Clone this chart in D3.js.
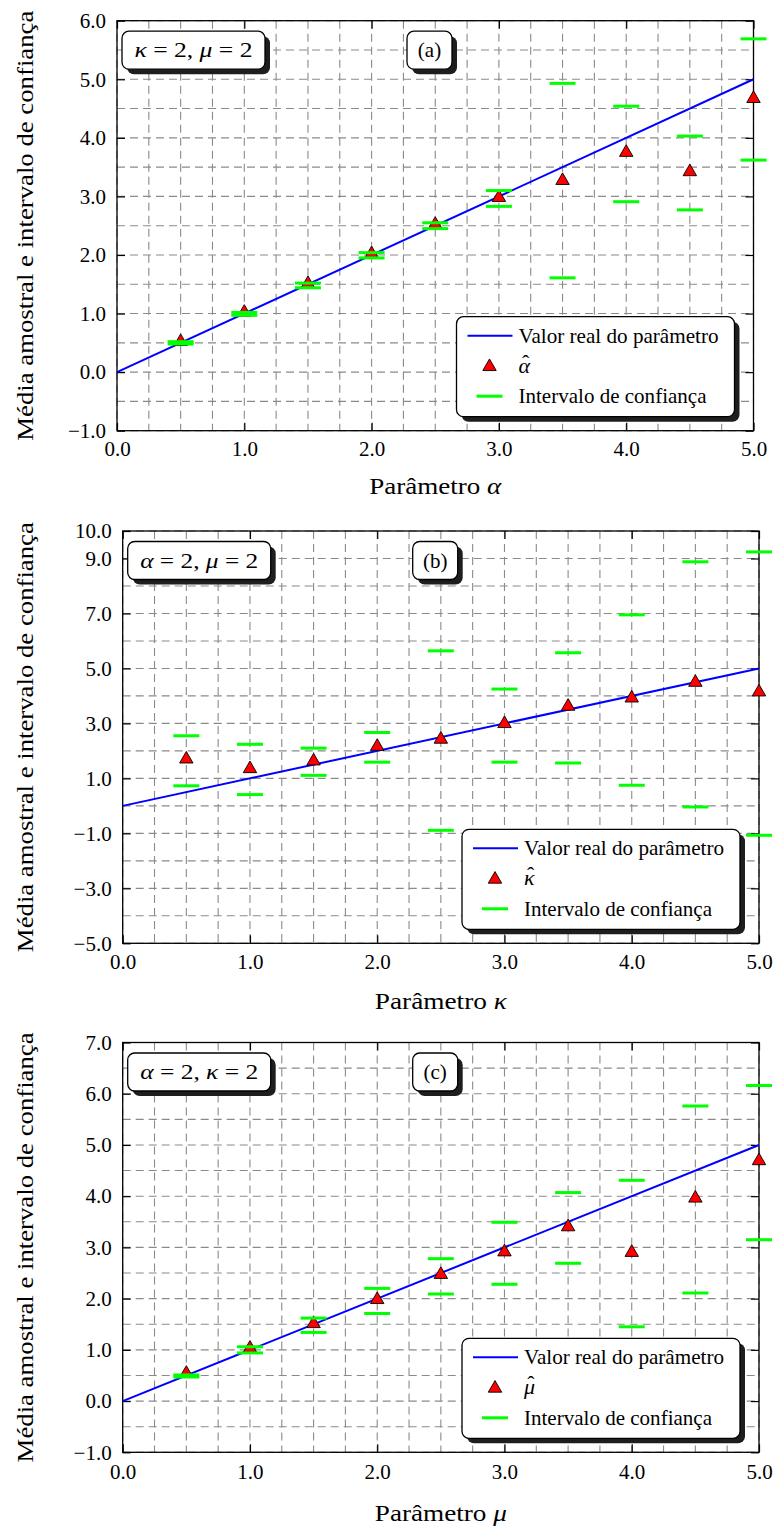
<!DOCTYPE html>
<html>
<head>
<meta charset="utf-8">
<script src="https://cdn.jsdelivr.net/npm/d3@7"></script>
<style>
  body { margin: 0; background: #fff; }
  text { font-family: "Liberation Serif", "DejaVu Serif", serif; }
</style>
</head>
<body>
<div id="chart"></div>
<script>
// parameter values on the x axis
var params = [0.5, 1.0, 1.5, 2.0, 2.5, 3.0, 3.5, 4.0, 4.5, 5.0];
var trueLine = [0, 5];

// (a) alpha
var alphaHat = [0.52, 1.02, 1.51, 2.02, 2.52, 2.98, 3.27, 3.75, 3.42, 4.67];
var alphaUp  = [0.52, 1.02, 1.52, 2.04, 2.55, 3.10, 4.93, 4.54, 4.03, 5.69];
var alphaLow = [0.48, 0.97, 1.44, 1.95, 2.45, 2.83, 1.61, 2.91, 2.77, 3.62];

// (b) kappa
var kappaHat = [1.70, 1.35, 1.63, 2.16, 2.42, 2.99, 3.62, 3.92, 4.49, 4.14];
var kappaUp  = [2.55, 2.24, 2.10, 2.67, 5.64, 4.25, 5.57, 6.95, 8.88, 9.24];
var kappaLow = [0.73, 0.41, 1.11, 1.59, -0.89, 1.59, 1.56, 0.75, -0.04, -1.07];

// (c) mu
var muHat = [0.54, 1.03, 1.51, 1.98, 2.47, 2.91, 3.40, 2.90, 3.96, 4.69];
var muUp  = [0.51, 1.06, 1.62, 2.20, 2.78, 3.49, 4.07, 4.31, 5.76, 6.16];
var muLow = [0.47, 0.94, 1.34, 1.71, 2.09, 2.28, 2.69, 1.45, 2.11, 3.15];

var xTicks  = [0, 1, 2, 3, 4, 5];
var yTicksA = [-1, 0, 1, 2, 3, 4, 5, 6];
var yTicksB = [-5, -3, -1, 1, 3, 5, 7, 9, 10];
var yTicksC = [-1, 0, 1, 2, 3, 4, 5, 6, 7];

var legendText = ["Valor real do parâmetro", "Intervalo de confiança"];
var yTitle = "Média amostral e intervalo de confiança";

var width = 774, height = 1528;
var serif = "Liberation Serif, DejaVu Serif, serif";

var svg = d3.select("#chart").append("svg")
    .attr("width", width)
    .attr("height", height);

var panels = [
  { left: 117, right: 753.5, top: 20.7, bottom: 430.7, yDom: [-1, 6], yStep: 0.5, yTicks: yTicksA,
    hat: alphaHat, up: alphaUp, low: alphaLow, sym: "α", tag: "(a)", pad: 10, titleY: 63,
    note: [["κ", true], [" = 2, ", false], ["μ", true], [" = 2", false]] },
  { left: 122.7, right: 759, top: 531, bottom: 943.3, yDom: [-5, 10], yStep: 1, yTicks: yTicksB,
    hat: kappaHat, up: kappaUp, low: kappaLow, sym: "κ", tag: "(b)", pad: 11, titleY: 66,
    note: [["α", true], [" = 2, ", false], ["μ", true], [" = 2", false]] },
  { left: 122.7, right: 759, top: 1042.5, bottom: 1452.3, yDom: [-1, 7], yStep: 0.5, yTicks: yTicksC,
    hat: muHat, up: muUp, low: muLow, sym: "μ", tag: "(c)", pad: 12, titleY: 69,
    note: [["α", true], [" = 2, ", false], ["κ", true], [" = 2", false]] }
];

var fmt = d3.format(".1f");
var tri = d3.symbol().type(d3.symbolTriangle).size(78);

panels.forEach(drawPanel);

function drawPanel(p) {
  var x = d3.scaleLinear().domain([0, 5]).range([p.left, p.right]);
  var y = d3.scaleLinear().domain(p.yDom).range([p.bottom, p.top]);
  var g = svg.append("g");

  // grid
  var xg = d3.range(0, 5.0001, 0.25);
  var yg = d3.range(p.yDom[0], p.yDom[1] + 1e-6, p.yStep);
  g.append("g").selectAll("line").data(xg).enter().append("line")
      .attr("x1", function(d) { return x(d); })
      .attr("x2", function(d) { return x(d); })
      .attr("y1", p.top).attr("y2", p.bottom)
      .attr("stroke", "#8a8a8a").attr("stroke-width", 1.1)
      .attr("stroke-dasharray", "8,5");
  g.append("g").selectAll("line").data(yg).enter().append("line")
      .attr("y1", function(d) { return y(d); })
      .attr("y2", function(d) { return y(d); })
      .attr("x1", p.left).attr("x2", p.right)
      .attr("stroke", "#8a8a8a").attr("stroke-width", 1.1)
      .attr("stroke-dasharray", "8,5");

  // axes
  var ax = g.append("g").attr("transform", "translate(0," + p.bottom + ")")
      .call(d3.axisBottom(x).tickValues(xTicks).tickSizeInner(-8).tickSizeOuter(0)
            .tickPadding(p.pad).tickFormat(fmt));
  var ay = g.append("g").attr("transform", "translate(" + p.left + ",0)")
      .call(d3.axisLeft(y).tickValues(p.yTicks).tickSizeInner(-8).tickSizeOuter(0)
            .tickPadding(11).tickFormat(fmt));
  var at = g.append("g").attr("transform", "translate(0," + p.top + ")")
      .call(d3.axisTop(x).tickValues(xTicks).tickSizeInner(-8).tickSizeOuter(0).tickFormat(""));
  var ar = g.append("g").attr("transform", "translate(" + p.right + ",0)")
      .call(d3.axisRight(y).tickValues(p.yTicks).tickSizeInner(-8).tickSizeOuter(0).tickFormat(""));
  [ax, ay, at, ar].forEach(function(a) {
    a.attr("font-family", serif);
    a.select(".domain").remove();
    a.selectAll("line").attr("stroke", "#000").attr("stroke-width", 1.2);
    a.selectAll("text").attr("font-family", serif).attr("font-size", 21).attr("fill", "#000");
  });

  g.append("rect")
      .attr("x", p.left).attr("y", p.top)
      .attr("width", p.right - p.left).attr("height", p.bottom - p.top)
      .attr("fill", "none").attr("stroke", "#000").attr("stroke-width", 1.3);

  // true value line
  g.append("line")
      .attr("x1", x(trueLine[0])).attr("y1", y(trueLine[0]))
      .attr("x2", x(trueLine[1])).attr("y2", y(trueLine[1]))
      .attr("stroke", "#0000ff").attr("stroke-width", 2);

  // estimates
  g.append("g").selectAll("path").data(params).enter().append("path")
      .attr("d", tri)
      .attr("transform", function(d, i) { return "translate(" + x(d) + "," + y(p.hat[i]) + ")"; })
      .attr("fill", "#ff0000").attr("stroke", "#000").attr("stroke-width", 0.9);

  // confidence interval bounds
  var bounds = [];
  params.forEach(function(d, i) {
    bounds.push({ x: d, v: p.up[i] });
    bounds.push({ x: d, v: p.low[i] });
  });
  g.append("g").selectAll("line").data(bounds).enter().append("line")
      .attr("x1", function(d) { return x(d.x) - 13; })
      .attr("x2", function(d) { return x(d.x) + 13; })
      .attr("y1", function(d) { return y(d.v); })
      .attr("y2", function(d) { return y(d.v); })
      .attr("stroke", "#00ff00").attr("stroke-width", 3);

  // parameter note box
  var nb = { x: p.left + 5, y: p.top + 10.5, w: 143, h: 38 };
  roundBox(g, nb.x, nb.y, nb.w, nb.h);
  var nt = g.append("text")
      .attr("x", nb.x + nb.w / 2).attr("y", nb.y + nb.h / 2 + 7)
      .attr("text-anchor", "middle").attr("font-size", 21)
      .attr("textLength", 118).attr("lengthAdjust", "spacingAndGlyphs");
  p.note.forEach(function(s) {
    nt.append("tspan").attr("font-style", s[1] ? "italic" : "normal").text(s[0]);
  });

  // tag box
  var tb = { x: p.left + 290, y: p.top + 10.5, w: 45, h: 38 };
  roundBox(g, tb.x, tb.y, tb.w, tb.h);
  g.append("text")
      .attr("x", tb.x + tb.w / 2).attr("y", tb.y + tb.h / 2 + 7)
      .attr("text-anchor", "middle").attr("font-size", 21)
      .text(p.tag);

  // legend
  var lx = p.right - 297, ly = p.bottom - 114;
  roundBox(g, lx, ly, 278, 100);
  var r0 = ly + 19, r1 = ly + 50, r2 = ly + 79.5;
  g.append("line").attr("x1", lx + 11).attr("x2", lx + 56).attr("y1", r0).attr("y2", r0)
      .attr("stroke", "#0000ff").attr("stroke-width", 2);
  g.append("text").attr("x", lx + 62).attr("y", r0 + 7).attr("font-size", 21)
      .attr("textLength", 200).attr("lengthAdjust", "spacingAndGlyphs").text(legendText[0]);
  g.append("path").attr("d", tri).attr("transform", "translate(" + (lx + 33) + "," + r1 + ")")
      .attr("fill", "#ff0000").attr("stroke", "#000").attr("stroke-width", 0.9);
  // estimator symbol with a hat, in one text element
  var hs = g.append("text").attr("x", lx + 62).attr("y", r1 + 6).attr("font-size", 22);
  var letter = hs.append("tspan").attr("font-style", "italic").text(p.sym);
  var hw = letter.node().getComputedTextLength();
  var hat = hs.append("tspan").attr("dy", -3).text("ˆ");
  var hatw = hat.node().getComputedTextLength();
  hat.attr("dx", -(hw / 2 + hatw / 2) + 1.5);
  g.append("line").attr("x1", lx + 20).attr("x2", lx + 46).attr("y1", r2).attr("y2", r2)
      .attr("stroke", "#00ff00").attr("stroke-width", 3);
  g.append("text").attr("x", lx + 62).attr("y", r2 + 7).attr("font-size", 21)
      .attr("textLength", 188).attr("lengthAdjust", "spacingAndGlyphs").text(legendText[1]);

  // axis titles
  var xt = g.append("text")
      .attr("x", (p.left + p.right) / 2).attr("y", p.bottom + p.titleY)
      .attr("text-anchor", "middle").attr("font-size", 24)
      .attr("textLength", 132).attr("lengthAdjust", "spacingAndGlyphs");
  xt.append("tspan").text("Parâmetro ");
  xt.append("tspan").attr("font-style", "italic").text(p.sym);

  g.append("text")
      .attr("transform", "translate(33," + ((p.top + p.bottom) / 2) + ") rotate(-90)")
      .attr("text-anchor", "middle").attr("font-size", 24)
      .attr("textLength", 430).attr("lengthAdjust", "spacingAndGlyphs")
      .text(yTitle);
}

function roundBox(g, bx, by, bw, bh) {
  g.append("rect").attr("x", bx + 5).attr("y", by + 5).attr("width", bw).attr("height", bh)
      .attr("rx", 7).attr("fill", "#1e1e1e");
  g.append("rect").attr("x", bx).attr("y", by).attr("width", bw).attr("height", bh)
      .attr("rx", 7).attr("fill", "#fff").attr("stroke", "#000").attr("stroke-width", 1.3);
}
</script>
</body>
</html>
